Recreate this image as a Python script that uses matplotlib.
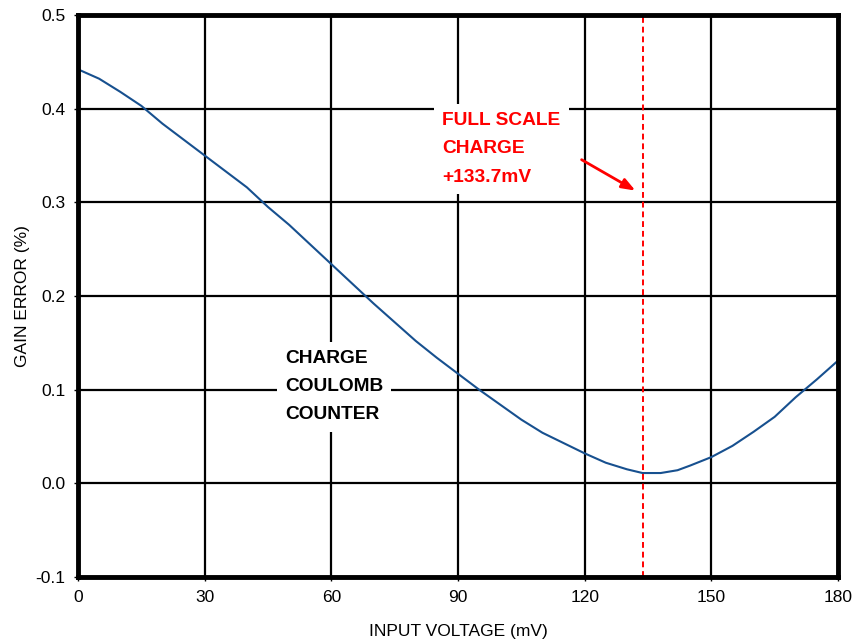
import matplotlib
matplotlib.use("Agg")
import matplotlib.pyplot as plt
from matplotlib import font_manager

names = {f.name for f in font_manager.fontManager.ttflist}
narrow = 'Liberation Sans Narrow' if 'Liberation Sans Narrow' in names else 'Liberation Sans'

voltage = [0, 5, 10, 15, 20, 25, 30, 35, 40, 45, 50, 55, 60, 65, 70, 75, 80, 85, 90,
           95, 100, 105, 110, 115, 120, 125, 130, 133.7, 138, 142, 145, 150, 155, 160,
           165, 170, 175, 180]
gain_error = [0.442, 0.432, 0.418, 0.403, 0.384, 0.367, 0.350, 0.333, 0.316, 0.295,
              0.276, 0.255, 0.234, 0.213, 0.192, 0.172, 0.152, 0.134, 0.117, 0.100,
              0.084, 0.068, 0.054, 0.043, 0.032, 0.022, 0.015, 0.011, 0.011, 0.014,
              0.019, 0.028, 0.040, 0.055, 0.071, 0.092, 0.111, 0.131]
x_ticks = [0, 30, 60, 90, 120, 150, 180]
y_ticks = [-0.1, 0.0, 0.1, 0.2, 0.3, 0.4, 0.5]
y_tick_labels = ['-0.1', '0.0', '0.1', '0.2', '0.3', '0.4', '0.5']
full_scale = 133.7

fig = plt.figure(figsize=(8.58, 6.42), dpi=100)
ax = fig.add_axes([78/858, 65/642, 760/858, 562/642])

ax.set_xlim(0, 180)
ax.set_ylim(-0.1, 0.5)
ax.set_xticks(x_ticks)
ax.set_yticks(y_ticks)
ax.set_yticklabels(y_tick_labels)
ax.grid(True, color='black', linewidth=1.6, zorder=1)
ax.set_axisbelow(True)
for s in ax.spines.values():
    s.set_linewidth(3.5)
    s.set_zorder(10)
ax.tick_params(axis='both', length=3, width=1, labelsize=12.5, pad=6)
for lab in ax.get_xticklabels() + ax.get_yticklabels():
    lab.set_family([narrow, 'DejaVu Sans'])

ax.plot(voltage, gain_error, color='#17508f', linewidth=1.5, zorder=3)
ax.axvline(full_scale, color='#ff0000', linestyle=(0, (3, 2)), linewidth=1.4, zorder=4)

ax.text(86.3, 0.396, 'FULL SCALE\nCHARGE\n+133.7mV', color='#ff0000', fontsize=13.8,
        fontweight='bold', family='Liberation Sans', va='top', ha='left',
        linespacing=1.85, zorder=5,
        bbox=dict(facecolor='white', edgecolor='none', pad=6))
ax.annotate('', xy=(132.6, 0.311), xytext=(118.7, 0.347),
            arrowprops=dict(arrowstyle='-|>,head_length=0.8,head_width=0.3',
                            color='#ff0000', lw=2), zorder=6)

ax.text(49.0, 0.142, 'CHARGE\nCOULOMB\nCOUNTER', color='black', fontsize=13.8,
        fontweight='bold', family='Liberation Sans', va='top', ha='left',
        linespacing=1.85, zorder=5,
        bbox=dict(facecolor='white', edgecolor='none', pad=6))

ax.set_xlabel('INPUT VOLTAGE (mV)', fontsize=12.5, family=[narrow, 'DejaVu Sans'], labelpad=14)
ax.set_ylabel('GAIN ERROR (%)', fontsize=12.5, family=[narrow, 'DejaVu Sans'], labelpad=4)

fig.savefig('out.png', dpi=100)
